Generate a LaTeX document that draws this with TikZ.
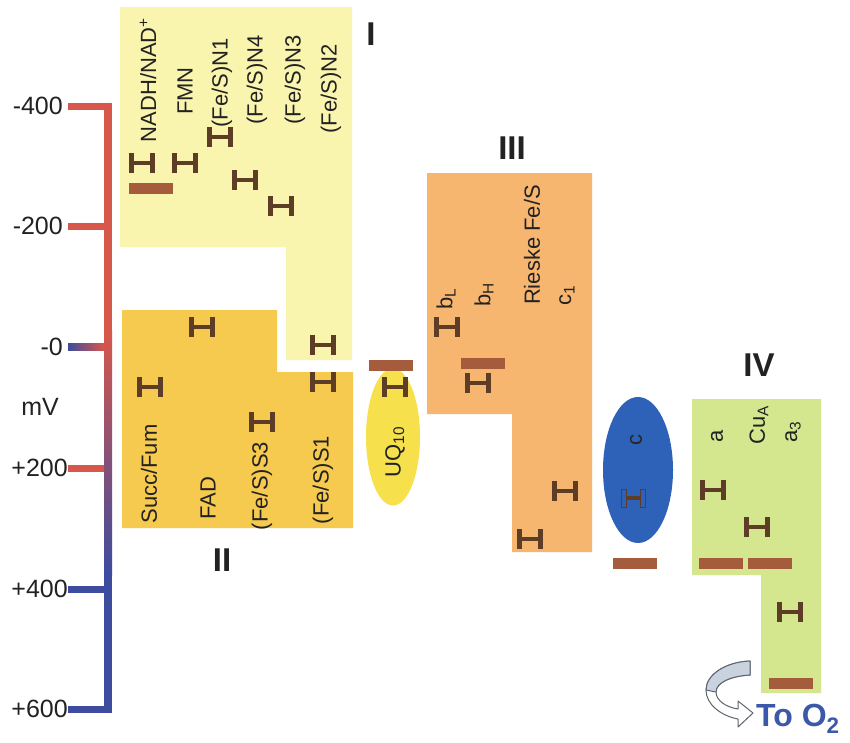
\documentclass[tikz,border=0pt]{standalone}
\usepackage{fontspec}
\setmainfont{Liberation Sans}
\usetikzlibrary{shapes.geometric}
\definecolor{cI}{HTML}{FAF5AE}
\definecolor{cII}{HTML}{F6C94F}
\definecolor{uq}{HTML}{F6E04C}
\definecolor{cIII}{HTML}{F7B66F}
\definecolor{cyc}{HTML}{2E62B8}
\definecolor{cIV}{HTML}{D4E78E}
\definecolor{rbar}{HTML}{A55C3C}
\definecolor{ibarc}{HTML}{5E3D27}
\definecolor{sred}{HTML}{D8574B}
\definecolor{sblue}{HTML}{3D4C9E}
\definecolor{txt}{HTML}{222222}
\definecolor{toO}{HTML}{3C58A8}
\definecolor{arrg}{HTML}{5E656E}
\definecolor{arrf}{HTML}{C9D3DF}
\tikzset{
  lab/.style={rotate=90, font=\fontsize{22}{24}\selectfont, text=txt, inner sep=0pt},
  roman/.style={font=\bfseries\fontsize{33}{35}\selectfont, text=txt, inner sep=0pt},
  scalelab/.style={font=\fontsize{25}{27}\selectfont, text=txt, inner sep=0pt, anchor=east},
  ibar/.pic={
    \fill[ibarc] (-13,-10) rectangle (-8,10);
    \fill[ibarc] (8,-10) rectangle (13,10);
    \fill[ibarc] (-8,-2.3) rectangle (8,2.3);
  },
  ibaro/.pic={
    \draw[ibarc, fill=cyc, line width=1pt] (-12,-9) rectangle (-7,9);
    \draw[ibarc, fill=cyc, line width=1pt] (7,-9) rectangle (12,9);
    \fill[ibarc] (-7,-2) rectangle (7,2);
  },
  rbarp/.pic={
    \fill[rbar] (-22,-5.5) rectangle (22,5.5);
  }
}
\begin{document}
\begin{tikzpicture}[x=1pt, y=-1pt]
\useasboundingbox[fill=white] (0,0) rectangle (850,742);

% ---- complexes ----
\fill[cI] (120,7) -- (352,7) -- (352,360) -- (286,360) -- (286,247) -- (120,247) -- cycle;
\fill[cII] (122,310) -- (277,310) -- (277,372) -- (353,372) -- (353,528) -- (122,528) -- cycle;
\fill[cIII] (427,173) -- (592,173) -- (592,552) -- (512,552) -- (512,414) -- (427,414) -- cycle;
\fill[cIV] (692,399) -- (821,399) -- (821,693) -- (761,693) -- (761,575) -- (692,575) -- cycle;
\node[ellipse, fill=uq, minimum width=54pt, minimum height=137pt, inner sep=0pt] (uqe) at (393,437) {};
\node[ellipse, fill=cyc, minimum width=70pt, minimum height=146pt, inner sep=0pt] (cye) at (638,470) {};

% ---- scale bar ----
\fill[sred] (104,103) rectangle (112,330);
\shade[top color=sred, bottom color=sblue] (104,330) rectangle (112,575);
\fill[sblue] (104,575) rectangle (112,713);
\fill[sred] (68,102.5) rectangle (104,109.5);
\fill[sred] (68,222.5) rectangle (104,229.5);
\shade[left color=sblue, right color=sred] (68,343.5) rectangle (104,350.5);
\fill[sred] (68,464.5) rectangle (104,471.5);
\fill[sblue] (68,585.5) rectangle (104,592.5);
\fill[sblue] (68,706) rectangle (112,713);
\node[scalelab] (t400m) at (63,106) {-400};
\node[scalelab] (t200m) at (63,226) {-200};
\node[scalelab] (t0) at (63,347) {-0};
\node[scalelab] (t200p) at (68,468) {+200};
\node[scalelab] (t400p) at (68,589) {+400};
\node[scalelab] (t600p) at (68,709) {+600};
\node[scalelab, anchor=center] (mv) at (40,407) {mV};

% ---- Complex I labels ----
\node[lab] (nadh) at (148,80) {NADH/NAD\textsuperscript{+}};
\node[lab] (fmn) at (185,91) {FMN};
\node[lab] (n1) at (222,83) {(Fe/S)N1};
\node[lab] (n4) at (257,80) {(Fe/S)N4};
\node[lab] (n3) at (295,80) {(Fe/S)N3};
\node[lab] (n2) at (331,89) {(Fe/S)N2};
\node[roman] (rI) at (371,34) {I};

% ---- Complex II labels ----
\node[lab] (succ) at (149,474) {Succ/Fum};
\node[lab] (fad) at (208,498) {FAD};
\node[lab] (s3) at (262,486) {(Fe/S)S3};
\node[lab] (s1) at (323,480) {(Fe/S)S1};
\node[roman] (rII) at (222,560) {II};
\node[lab] (uql) at (395,452) {UQ\textsubscript{10}};

% ---- Complex III labels ----
\node[lab] (bl) at (446,299) {b\textsubscript{L}};
\node[lab] (bh) at (484,295) {b\textsubscript{H}};
\node[lab] (rie) at (532,245) {Rieske Fe/S};
\node[lab] (c1) at (567,295) {c\textsubscript{1}};
\node[roman] (rIII) at (512,148) {III};

% ---- cyt c ----
\node[lab, text=black!85] (cl) at (636,440) {c};

% ---- Complex IV labels ----
\node[lab] (al) at (717,436) {a};
\node[lab] (cua) at (759,425) {Cu\textsubscript{A}};
\node[lab] (a3) at (793,432) {a\textsubscript{3}};
\node[roman] (rIV) at (759,365) {IV};

% ---- I-bars ----
\pic at (142,163) {ibar};
\pic at (185,163) {ibar};
\pic at (220,137) {ibar};
\pic at (245,180) {ibar};
\pic at (281,206) {ibar};
\pic at (323,345) {ibar};
\pic at (323,382) {ibar};
\pic at (202,327) {ibar};
\pic at (150,387) {ibar};
\pic at (262,422) {ibar};
\pic at (395,387) {ibar};
\pic at (447,327) {ibar};
\pic at (478,383) {ibar};
\pic at (565,491) {ibar};
\pic at (530,539) {ibar};
\pic at (633,498) {ibaro};
\pic at (713,490) {ibar};
\pic at (757,527) {ibar};
\pic at (790,612) {ibar};

% ---- flat bars ----
\pic at (151,188) {rbarp};
\pic at (391,365) {rbarp};
\pic at (483,363) {rbarp};
\pic at (635,563) {rbarp};
\pic at (721,563) {rbarp};
\pic at (770,563) {rbarp};
\pic at (791,683) {rbarp};

% ---- To O2 arrow ----
\filldraw[fill=white, draw=arrg, line width=1pt, line join=round]
  (750,661) .. controls (725,662) and (706,675) .. (706,690)
  .. controls (706,705) and (722,716) .. (738,719)
  -- (738,727) -- (753,713) -- (738,701) -- (738,709)
  .. controls (725,707) and (716,700) .. (716,692)
  .. controls (716,682) and (732,676) .. (750,675) -- cycle;
\filldraw[fill=arrf, draw=arrg, line width=1pt, line join=round]
  (750,661) .. controls (725,662) and (706,675) .. (706,690)
  -- (716,692)
  .. controls (716,682) and (732,676) .. (750,675) -- cycle;
\node[font=\bfseries\fontsize{32}{34}\selectfont, text=toO, inner sep=0pt, anchor=west] (too2) at (756,719) {To O\textsubscript{2}};
\end{tikzpicture}
\end{document}
